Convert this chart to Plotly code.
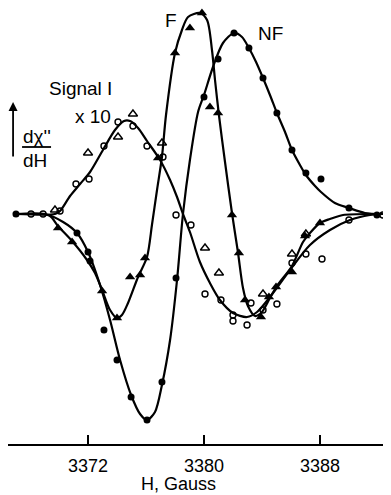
import plotly.graph_objects as go

# ---------------- data (H in gauss, dχ''/dH in arbitrary units) ----------------
nf_curve_h = [3367.03, 3369.03, 3370.28, 3371.24, 3372.00, 3372.83, 3373.52, 3374.21, 3374.97,
              3375.59, 3376.07, 3376.62, 3377.10, 3377.66, 3378.14, 3378.55, 3379.03, 3379.59,
              3380.00, 3380.62, 3381.31, 3382.07, 3382.62, 3383.10, 3383.59, 3384.07, 3384.55,
              3385.03, 3385.59, 3386.07, 3386.62, 3387.03, 3387.66, 3388.07, 3389.03, 3390.00,
              3391.10, 3392.34]
nf_curve_v = [0.0, 0.0, -0.8, -1.9, -3.8, -7.1, -10.6, -14.6, -18.1,
              -20.0, -20.6, -19.8, -17.1, -12.6, -6.6, 0.0, 5.4, 10.2,
              11.9, 14.7, 17.1, 18.1, 17.7, 16.6, 15.2, 13.6, 11.9,
              10.1, 8.2, 6.4, 4.9, 3.9, 2.8, 2.2, 1.1, 0.6,
              0.1, 0.0]

f_curve_h = [3368.69, 3369.38, 3369.93, 3370.90, 3371.93, 3372.48, 3372.97, 3373.52, 3374.00,
             3374.34, 3374.76, 3375.45, 3376.07, 3376.41, 3376.76, 3377.10, 3377.38, 3378.00,
             3378.48, 3378.90, 3379.72, 3380.21, 3380.55, 3380.76, 3381.03, 3381.45, 3381.93,
             3382.34, 3382.69, 3383.03, 3383.52, 3384.00, 3384.55, 3385.03, 3386.07, 3386.83,
             3387.31, 3388.00, 3388.69, 3389.59, 3391.45]
f_curve_v = [0.0, -0.2, -1.2, -2.7, -4.6, -5.9, -7.6, -9.6, -10.4,
             -10.1, -8.9, -6.3, -4.3, -1.1, 2.4, 5.7, 9.9, 16.1,
             18.4, 19.7, 20.1, 19.4, 16.4, 13.4, 9.9, 5.2, 0.1,
             -3.8, -7.4, -9.2, -10.2, -9.8, -8.4, -7.2, -5.2, -2.8,
             -1.9, -0.9, -0.5, -0.1, 0.0]

sig_curve_h = [3367.03, 3369.72, 3370.07, 3370.76, 3371.45, 3372.14, 3373.03, 3373.86, 3374.48,
               3374.90, 3375.45, 3376.07, 3376.97, 3377.66, 3378.14, 3378.55, 3379.03, 3379.72,
               3380.41, 3381.10, 3382.00, 3382.97, 3383.66, 3384.55, 3385.93, 3387.31, 3388.69,
               3390.07, 3391.45, 3392.34]
sig_curve_v = [0.0, 0.0, 0.3, 1.8, 3.0, 4.2, 6.4, 8.4, 9.3,
               9.3, 8.6, 7.3, 5.4, 3.4, 1.7, 0.0, -1.8, -4.8,
               -6.9, -8.6, -9.9, -10.3, -9.8, -8.3, -5.6, -3.1, -1.6,
               -0.6, -0.1, 0.0]

# measured points
nf_pts_h = [3367.03, 3371.24, 3372.00, 3372.14, 3373.10, 3374.00, 3374.97, 3376.07, 3377.10,
            3378.07, 3380.00, 3380.97, 3382.07, 3383.10, 3384.07, 3385.03, 3386.07, 3387.03,
            3388.07, 3390.00, 3391.93]
nf_pts_v = [0.0, -1.9, -3.8, -4.7, -11.6, -14.6, -18.3, -20.6, -16.8,
            -6.4, 11.7, 15.5, 18.1, 16.6, 13.6, 10.1, 6.4, 4.1,
            3.5, 0.6, -0.1]

f_pts_h = [3369.93, 3370.90, 3372.97, 3374.00, 3374.90, 3375.59, 3375.93, 3376.83, 3378.00,
           3379.03, 3379.86, 3380.41, 3380.97, 3381.93, 3382.41, 3382.83, 3383.93, 3384.48,
           3384.97, 3386.07, 3386.97, 3388.00]
f_pts_v = [-1.4, -2.8, -7.7, -10.4, -6.3, -6.1, -4.4, 5.6, 16.1,
           18.6, 20.1, 10.7, 10.1, -0.1, -3.9, -8.6, -10.3, -8.3,
           -7.3, -5.8, -2.2, -0.9]

sig_tri_h = [3369.72, 3372.00, 3374.07, 3375.10, 3377.10, 3380.07, 3381.03, 3384.07, 3386.07, 3387.03]
sig_tri_v = [0.4, 6.1, 7.7, 10.0, 7.1, -3.4, -5.9, -8.0, -4.0, -2.0]

sig_circ_h = [3368.07, 3368.90, 3370.07, 3371.17, 3372.07, 3373.10, 3374.07, 3375.10, 3376.07,
              3377.17, 3378.07, 3379.10, 3380.07, 3381.17, 3382.00, 3382.00, 3382.97, 3383.24,
              3384.07, 3385.03, 3386.07, 3387.03, 3388.14, 3390.00, 3392.34]
sig_circ_v = [0.0, 0.0, 0.3, 3.0, 3.5, 6.8, 9.2, 8.8, 6.8,
              5.7, -0.1, -1.1, -8.0, -8.6, -10.1, -10.7, -11.1, -8.9,
              -9.6, -9.0, -4.9, -4.0, -4.5, -0.6, -0.1]

tick_vals = [3372, 3380, 3388]
tick_text = ["3372", "3380", "3388"]

# ---------------- figure ----------------
# the page body adds an 8 px margin, so the figure is 8 px smaller on each axis
FONT = "Liberation Sans"
fig = go.Figure()

line_style = dict(color="black", width=2.2, shape="spline", smoothing=0.8)
for hx, vy in [(nf_curve_h, nf_curve_v), (f_curve_h, f_curve_v), (sig_curve_h, sig_curve_v)]:
    fig.add_trace(go.Scatter(x=hx, y=vy, mode="lines", line=line_style, cliponaxis=False,
                             hoverinfo="skip", showlegend=False))

fig.add_trace(go.Scatter(x=sig_circ_h, y=sig_circ_v, mode="markers", showlegend=False,
                         cliponaxis=False,
                         marker=dict(symbol="circle-open", size=6, color="black",
                                     line=dict(width=1.4, color="black"))))
fig.add_trace(go.Scatter(x=sig_tri_h, y=sig_tri_v, mode="markers", showlegend=False,
                         cliponaxis=False,
                         marker=dict(symbol="triangle-up-open", size=8, color="black",
                                     line=dict(width=1.4, color="black"))))
fig.add_trace(go.Scatter(x=nf_pts_h, y=nf_pts_v, mode="markers", showlegend=False,
                         cliponaxis=False,
                         marker=dict(symbol="circle", size=7, color="black")))
fig.add_trace(go.Scatter(x=f_pts_h, y=f_pts_v, mode="markers", showlegend=False,
                         cliponaxis=False,
                         marker=dict(symbol="triangle-up", size=9, color="black")))

txt = dict(showarrow=False, xref="x", yref="y", font=dict(family=FONT, size=19, color="black"))
fig.add_annotation(x=3377.72, y=19.4, text="F", **txt)
fig.add_annotation(x=3384.62, y=18.1, text="NF", **txt)
fig.add_annotation(x=3371.45, y=12.6, text="Signal I", **txt)
fig.add_annotation(x=3372.34, y=9.8, text="x 10", **txt)
fig.add_annotation(x=3368.48, y=7.8, text="dχ''", **txt)
fig.add_annotation(x=3368.34, y=5.4, text="dH", **txt)
fig.add_shape(type="line", xref="x", yref="y", x0=3367.45, x1=3369.45, y0=6.7, y1=6.7,
              line=dict(color="black", width=1.8))
fig.add_annotation(x=3366.83, y=11.2, ax=3366.83, ay=5.6, axref="x", ayref="y",
                   xref="x", yref="y", text="", showarrow=True, arrowhead=2,
                   arrowsize=1, arrowwidth=1.8, arrowcolor="black")
fig.add_annotation(x=0.444, y=-0.092, xref="paper", yref="paper", text="H, Gauss",
                   showarrow=False, font=dict(family=FONT, size=18, color="black"),
                   yanchor="middle")

fig.update_xaxes(range=[3366.48, 3392.90], showgrid=False, zeroline=False,
                 showline=True, linecolor="black", linewidth=2,
                 ticks="inside", ticklen=9, tickwidth=1.6, tickcolor="black",
                 tickvals=tick_vals, ticktext=tick_text, ticklabelstandoff=4,
                 tickfont=dict(family=FONT, size=18, color="black"))
fig.update_yaxes(range=[-23.0, 20.6], visible=False)

fig.update_layout(width=383, height=487, margin=dict(l=0, r=0, t=0, b=51),
                  paper_bgcolor="white", plot_bgcolor="white")

fig.write_html("out.html")
